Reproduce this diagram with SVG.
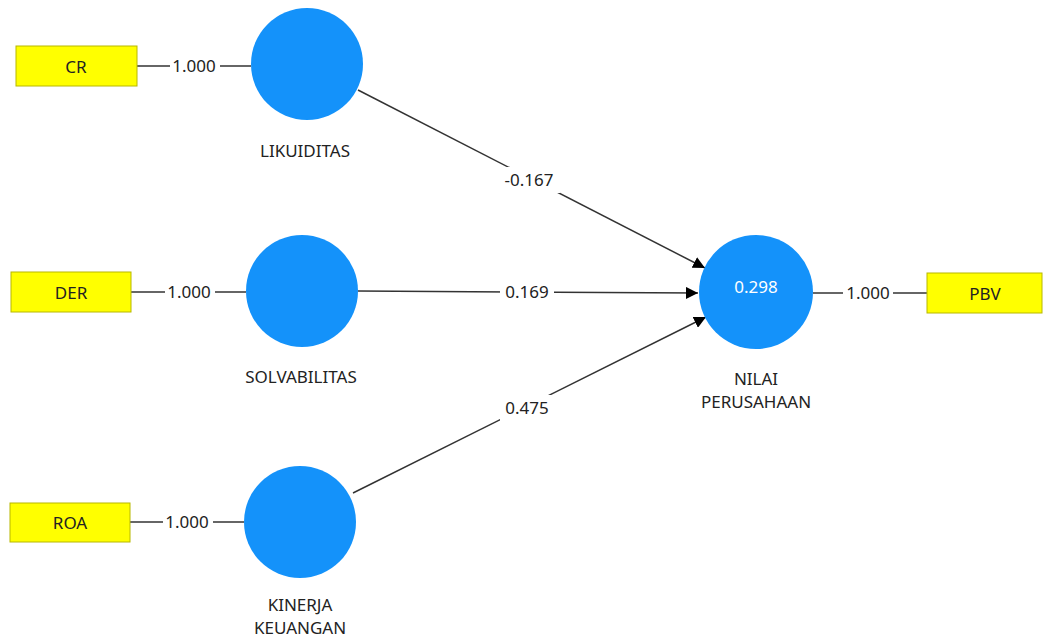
<svg xmlns="http://www.w3.org/2000/svg" width="1043" height="642" viewBox="0 0 1043 642">
<style>
.ind{fill:#ffff00;stroke:#b8b800;stroke-width:1}
.lv{fill:#1492fa}
.t{font-family:"Segoe UI","Noto Sans","Open Sans",sans-serif;font-size:17px;fill:#222;text-anchor:middle}
.w{fill:#fff}
.ln{stroke:#333;stroke-width:1.5;fill:none}
</style>
<defs>
<marker id="ah" viewBox="0 0 10 10" refX="10" refY="5" markerWidth="12" markerHeight="12" markerUnits="userSpaceOnUse" orient="auto">
<path d="M0,0 L10,5 L0,10 z" fill="#000"/>
</marker>
</defs>
<rect width="1043" height="642" fill="#fff"/>
<g id="connectors">
<line class="ln" x1="137" y1="66" x2="251" y2="66"/>
<line class="ln" x1="131" y1="292" x2="246" y2="292"/>
<line class="ln" x1="130" y1="522" x2="244" y2="522"/>
<line class="ln" x1="813" y1="293" x2="927" y2="293"/>
<line class="ln" x1="358" y1="90" x2="705" y2="268" marker-end="url(#ah)"/>
<line class="ln" x1="358" y1="291" x2="698" y2="293" marker-end="url(#ah)"/>
<line class="ln" x1="353" y1="493" x2="706" y2="317" marker-end="url(#ah)"/>
<rect class="w" x="170" y="55" width="50" height="22"/>
<rect class="w" x="165" y="281" width="50" height="22"/>
<rect class="w" x="163" y="511" width="50" height="22"/>
<rect class="w" x="843" y="282" width="50" height="22"/>
<rect class="w" x="498" y="167" width="62" height="26"/>
<rect class="w" x="500" y="280" width="54" height="24"/>
<rect class="w" x="500" y="395" width="54" height="26"/>
<text class="t" x="194" y="72">1.000</text>
<text class="t" x="189" y="298">1.000</text>
<text class="t" x="187" y="528">1.000</text>
<text class="t" x="868" y="299">1.000</text>
<text class="t" x="529" y="186">-0.167</text>
<text class="t" x="527" y="298">0.169</text>
<text class="t" x="527" y="414">0.475</text>
</g>
<g id="CR"><rect class="ind" x="16" y="46" width="121" height="40"/><text class="t" x="76" y="73">CR</text></g>
<g id="DER"><rect class="ind" x="11" y="272" width="120" height="40"/><text class="t" x="71" y="299">DER</text></g>
<g id="ROA"><rect class="ind" x="10" y="503" width="120" height="39"/><text class="t" x="70" y="529">ROA</text></g>
<g id="PBV"><rect class="ind" x="927" y="273" width="115" height="40"/><text class="t" x="985" y="300">PBV</text></g>
<g id="LIKUIDITAS"><circle class="lv" cx="307" cy="64" r="56"/><text class="t" x="305" y="157">LIKUIDITAS</text></g>
<g id="SOLVABILITAS"><circle class="lv" cx="302" cy="291" r="56"/><text class="t" x="301" y="383">SOLVABILITAS</text></g>
<g id="KINERJA_KEUANGAN"><circle class="lv" cx="300" cy="522" r="56"/><text class="t" x="300" y="611">KINERJA</text><text class="t" x="300" y="634">KEUANGAN</text></g>
<g id="NILAI_PERUSAHAAN"><circle class="lv" cx="756" cy="292" r="57"/><text class="t" x="756" y="293" style="fill:#fff">0.298</text><text class="t" x="756" y="385">NILAI</text><text class="t" x="756" y="408">PERUSAHAAN</text></g>
</svg>
